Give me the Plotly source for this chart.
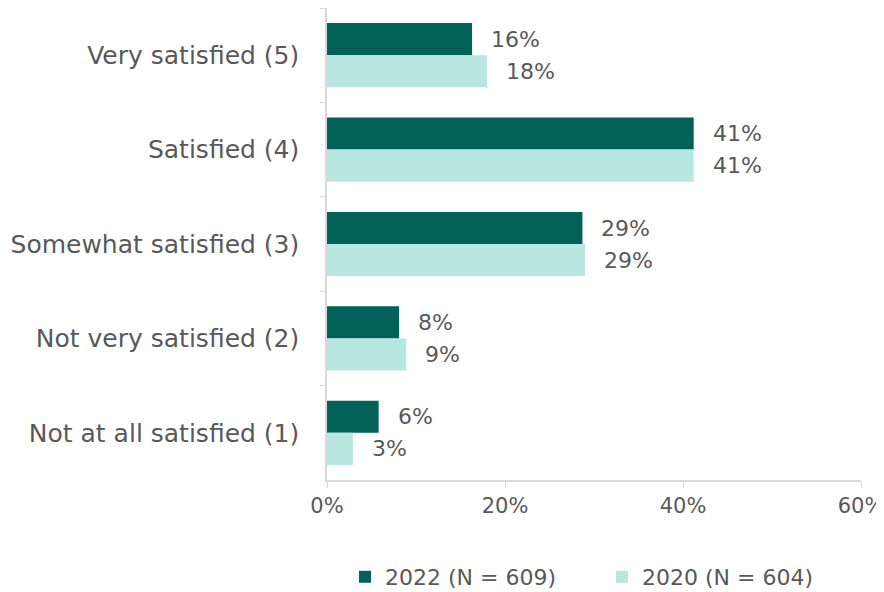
import plotly.graph_objects as go

categories = ["Very satisfied (5)", "Satisfied (4)", "Somewhat satisfied (3)",
              "Not very satisfied (2)", "Not at all satisfied (1)"]
values_2022 = [16.3, 41.2, 28.7, 8.1, 5.8]
values_2020 = [18.0, 41.2, 29.0, 8.9, 2.9]
labels_2022 = ["16%", "41%", "29%", "8%", "6%"]
labels_2020 = ["18%", "41%", "29%", "9%", "3%"]
x_ticks = [0, 20, 40, 60]
x_tick_labels = ["0%", "20%", "40%", "60%"]

DARK = "#02625A"
LIGHT = "#B8E6E0"
TEXT = "#595959"
FONT = "DejaVu Sans"

fig = go.Figure()
fig.add_trace(go.Bar(y=categories, x=values_2022, orientation="h", name="2022 (N = 609)",
                     marker=dict(color=DARK, line=dict(width=0))))
fig.add_trace(go.Bar(y=categories, x=values_2020, orientation="h", name="2020 (N = 604)",
                     marker=dict(color=LIGHT, line=dict(width=0))))

annotations = []
for cat, v, lab in zip(categories, values_2022, labels_2022):
    annotations.append(dict(x=v, y=cat, text=lab, showarrow=False, xanchor="left",
                            xshift=17, yshift=16, font=dict(size=22, color=TEXT, family=FONT)))
for cat, v, lab in zip(categories, values_2020, labels_2020):
    annotations.append(dict(x=v, y=cat, text=lab, showarrow=False, xanchor="left",
                            xshift=17, yshift=-16, font=dict(size=22, color=TEXT, family=FONT)))

# page body has an 8px default margin; figure is sized/offset to compensate
fig.update_layout(
    width=876, height=584,
    margin=dict(l=319, r=23, t=0, b=112, autoexpand=False),
    paper_bgcolor="white", plot_bgcolor="white",
    barmode="group", bargap=0.32, bargroupgap=0,
    font=dict(family=FONT, size=22, color=TEXT),
    annotations=annotations,
    legend=dict(orientation="h", x=0.515, xref="paper", xanchor="center",
                y=-0.2055, yanchor="middle", font=dict(size=22, color=TEXT),
                itemwidth=30, entrywidth=212, traceorder="normal"),
    xaxis=dict(range=[0, 60], tickvals=x_ticks, ticktext=x_tick_labels, automargin=False,
               showgrid=False, zeroline=False, showline=True, linecolor="#D9D9D9",
               linewidth=1.5, ticks="outside", ticklen=6, tickcolor="#D9D9D9",
               ticklabeloverflow="allow",
               tickfont=dict(size=21, color=TEXT)),
    yaxis=dict(autorange="reversed", showgrid=False, zeroline=False, showline=True,
               automargin=False,
               linecolor="#D9D9D9", linewidth=1.5, ticks="outside", ticklen=5,
               tickcolor="#D9D9D9", tickson="boundaries",
               tickfont=dict(size=25, color=TEXT), ticklabelstandoff=21),
)

fig.write_html("out.html")
